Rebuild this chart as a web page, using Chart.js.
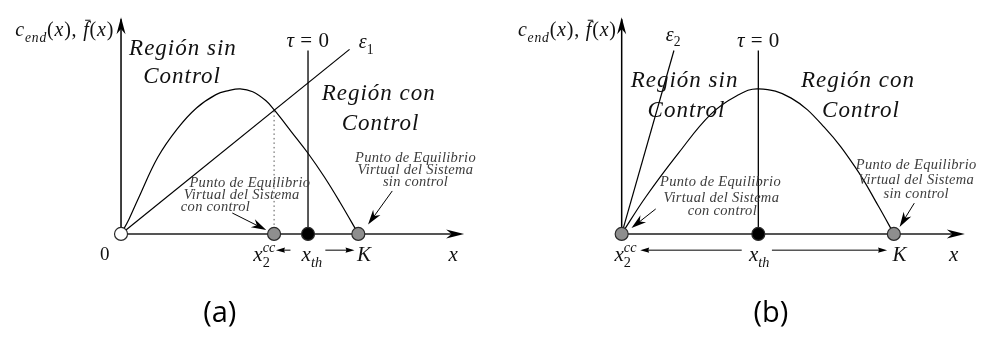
<!DOCTYPE html>
<html>
<head>
<meta charset="utf-8">
<script src="https://cdn.jsdelivr.net/npm/chart.js@4/dist/chart.umd.min.js"></script>
<style>
  html, body { margin: 0; padding: 0; background: #fff; }
  #wrap { position: relative; width: 981px; height: 338px; overflow: hidden; }
  #wrap canvas { position: absolute; top: 0; }
</style>
</head>
<body>
<div id="wrap">
  <canvas id="chartA" width="490" height="338" style="left:0px"></canvas>
  <canvas id="chartB" width="491" height="338" style="left:490px"></canvas>
</div>
<script>
// ---- Data (x in units of population, K = 100; y in units where max f̄ = 25) ----
const K = 100;

// Panel (a)
const curveA = [[0,0],[3.3,2.5],[7.3,6.1],[15.5,13.2],[23.7,18.1],[31.8,21.7],[40,24.0],
                [45.3,24.7],[50.2,25],[55.5,24.5],[61.2,22.9],[64.5,21.4],[71.8,17.6],
                [78.8,13.9],[85.7,9.8],[92.2,5.5],[100,0]];
const epsA   = [[0,0],[96.3,31.8]];
const xthA   = 78.8;
const x2ccA  = 64.5;
const tauTopA = 31.6;
const eqXA    = [0, x2ccA, xthA, K];
const eqKindA = ['open', 'gray', 'black', 'gray'];

// Panel (b)
const curveB = [[0,0],[8.9,6.4],[21,14],[32.7,20.6],[42.3,23.8],[50.2,25],[62.3,23.4],
                [74.4,18.4],[86.1,11.3],[94.3,4.8],[100,0]];
const epsB   = [[0,0],[19.2,31.6]];
const xthB   = 50.2;
const x2ccB  = 0;
const tauTopB = 31.6;
const eqXB    = [x2ccB, xthB, K];
const eqKindB = ['gray', 'black', 'gray'];

// Axis extents
const yAxisTop = 37;
const xAxisEndA = 142.9;
const xAxisEndB = 124.6;

// ---- Text ----
const SERIF = '"Liberation Serif", "DejaVu Serif", serif';
const SANS  = '"Open Sans", "Noto Sans", sans-serif';
const yLabelSegs = [{t:'c',i:1},{t:'end',i:1,sub:1},{t:'('},{t:'x',i:1},{t:'), '},
                    {t:'f',i:1,bar:1},{t:'('},{t:'x',i:1},{t:')'}];
const x2ccSegs = [{t:'x',i:1},{t:'2',sub:1},{t:'cc',i:1,sup:1,stack:1}];
const xthSegs  = [{t:'x',i:1},{t:'th',i:1,sub:1}];
const tauSegs  = [{t:'τ',i:1},{t:' = 0'}];
const annCon   = ['Punto de Equilibrio', 'Virtual del Sistema', 'con control'];
const annSin   = ['Punto de Equilibrio', 'Virtual del Sistema', 'sin control'];

const fillFor = { open: '#ffffff', gray: '#8e8e8e', black: '#000000' };

// ---- Drawing helpers ----
function richLayout(ctx, segs, size, spacing) {
  let x = 0, prevStart = 0;
  const items = [];
  for (const s of segs) {
    const fs = (s.sub || s.sup) ? size * 0.68 : size;
    const font = (s.i ? 'italic ' : '') + fs + 'px ' + SERIF;
    ctx.font = font;
    ctx.letterSpacing = spacing + 'px';
    const w = ctx.measureText(s.t).width;
    let sx = x;
    if (s.stack) { sx = prevStart; x = Math.max(x, sx + w); }
    else { prevStart = sx; x += w; }
    items.push({ s, font, sx, w });
  }
  return { items, width: x };
}
function drawRich(ctx, segs, x, y, size, align, color, spacing) {
  spacing = spacing || 0;
  ctx.save();
  const L = richLayout(ctx, segs, size, spacing);
  let x0 = x;
  if (align === 'center') x0 = x - L.width / 2;
  else if (align === 'right') x0 = x - L.width;
  ctx.fillStyle = color; ctx.strokeStyle = color;
  ctx.textBaseline = 'alphabetic'; ctx.textAlign = 'left';
  ctx.letterSpacing = spacing + 'px';
  const base = y + size * 0.33;
  for (const it of L.items) {
    ctx.font = it.font;
    let dy = 0;
    if (it.s.sub) dy = size * 0.28;
    if (it.s.sup) dy = -size * 0.42;
    ctx.fillText(it.s.t, x0 + it.sx, base + dy);
    if (it.s.bar) {
      ctx.lineWidth = 1;
      ctx.beginPath();
      ctx.moveTo(x0 + it.sx + it.w * 0.3, base - size * 0.8);
      ctx.lineTo(x0 + it.sx + it.w + 1, base - size * 0.8);
      ctx.stroke();
    }
  }
  ctx.restore();
}
function arrowHead(ctx, x1, y1, x2, y2, len, half, notch, color) {
  const a = Math.atan2(y2 - y1, x2 - x1);
  const c = Math.cos(a), s = Math.sin(a);
  const bx = x2 - c * len, by = y2 - s * len;
  ctx.save();
  ctx.fillStyle = color;
  ctx.beginPath();
  ctx.moveTo(x2, y2);
  ctx.lineTo(bx - s * half, by + c * half);
  ctx.lineTo(x2 - c * len * (1 - notch), y2 - s * len * (1 - notch));
  ctx.lineTo(bx + s * half, by - c * half);
  ctx.closePath();
  ctx.fill();
  ctx.restore();
}
function arrow(ctx, x1, y1, x2, y2, len, half, notch, color, lw) {
  const a = Math.atan2(y2 - y1, x2 - x1);
  ctx.save();
  ctx.strokeStyle = color; ctx.lineWidth = lw;
  ctx.beginPath();
  ctx.moveTo(x1, y1);
  ctx.lineTo(x2 - Math.cos(a) * len * 0.6, y2 - Math.sin(a) * len * 0.6);
  ctx.stroke();
  ctx.restore();
  arrowHead(ctx, x1, y1, x2, y2, len, half, notch, color);
}
function plainText(ctx, t, x, y, font, color, spacing) {
  ctx.save();
  ctx.font = font; ctx.fillStyle = color;
  ctx.letterSpacing = (spacing || 0) + 'px';
  ctx.textAlign = 'center'; ctx.textBaseline = 'middle';
  ctx.fillText(t, x, y);
  ctx.restore();
}

// ---- Panel builder ----
function toXY(arr) { return arr.map(p => ({ x: p[0], y: p[1] })); }

function buildPanel(canvasId, cfg) {
  const datasets = [
    { // equilibrium points on top
      type: 'scatter', data: cfg.eqX.map(v => ({ x: v, y: 0 })),
      pointRadius: 6.5, pointHoverRadius: 6.5,
      pointBackgroundColor: cfg.eqKind.map(k => fillFor[k]),
      pointBorderColor: '#2a2a2a', pointBorderWidth: 1.2, showLine: false
    },
    { type: 'line', data: toXY(cfg.curve), borderColor: '#000', borderWidth: 1.2,
      pointRadius: 0, tension: 0.4, fill: false },
    { type: 'line', data: toXY(cfg.eps), borderColor: '#000', borderWidth: 1.2,
      pointRadius: 0, fill: false },
    { type: 'line', data: [{ x: cfg.xth, y: 0 }, { x: cfg.xth, y: cfg.tauTop }],
      borderColor: '#000', borderWidth: 1.3, pointRadius: 0, fill: false },
    { type: 'line', data: [{ x: 0, y: 0 }, { x: cfg.xEnd, y: 0 }],
      borderColor: '#555', borderWidth: 2, pointRadius: 0, fill: false },
    { type: 'line', data: [{ x: 0, y: 0 }, { x: 0, y: yAxisTop }],
      borderColor: '#000', borderWidth: 1.5, pointRadius: 0, fill: false }
  ];
  if (cfg.dotted) {
    datasets.push({ type: 'line', data: [{ x: cfg.dotted[0], y: 0 }, { x: cfg.dotted[0], y: cfg.dotted[1] }],
      borderColor: '#555', borderWidth: 1, borderDash: [1.5, 3], pointRadius: 0, fill: false });
  }

  const overlay = {
    id: 'overlay',
    afterDatasetsDraw(chart) {
      const ctx = chart.ctx;
      const X = v => chart.scales.x.getPixelForValue(v);
      const Y = v => chart.scales.y.getPixelForValue(v);
      // axis arrowheads
      arrowHead(ctx, X(0), Y(0), X(0), Y(yAxisTop) - 2, 17, 4.5, 0.3, '#000');
      arrowHead(ctx, X(0), Y(0), X(cfg.xEnd) + 4, Y(0), 18, 4.5, 0.3, '#000');
      // region captions
      const regFont = 'italic 23px ' + SERIF;
      for (const r of cfg.regions) plainText(ctx, r.t, X(r.x), Y(r.y), regFont, '#111', 1);
      // axis labels
      drawRich(ctx, yLabelSegs, X(cfg.yLab[0]), Y(cfg.yLab[1]), 20, 'right', '#111', 0.8);
      drawRich(ctx, tauSegs, X(cfg.tauLab[0]), Y(cfg.tauLab[1]), 21, 'center', '#111', 0.5);
      drawRich(ctx, [{ t: 'ε', i: 1 }, { t: cfg.epsSub, sub: 1 }], X(cfg.epsLab[0]), Y(cfg.epsLab[1]), 20, 'center', '#111');
      drawRich(ctx, x2ccSegs, X(cfg.x2Lab), Y(-3.5), 21, 'center', '#111');
      drawRich(ctx, xthSegs, X(cfg.xthLab), Y(-3.5), 21, 'center', '#111');
      drawRich(ctx, [{ t: 'K', i: 1 }], X(cfg.kLab), Y(-3.5), 21, 'center', '#111');
      drawRich(ctx, [{ t: 'x', i: 1 }], X(cfg.xLab), Y(-3.5), 21, 'center', '#111');
      if (cfg.zeroLab) drawRich(ctx, [{ t: '0' }], X(cfg.zeroLab), Y(-3.5), 19, 'center', '#111');
      // range arrows under the axis
      const ry = Y(-2.8);
      for (const a of cfg.rangeArrows) arrow(ctx, X(a[0]), ry, X(a[1]), ry, 9, 2.6, 0.1, '#000', 1);
      // equilibrium annotations
      const annFont = 'italic 14.5px ' + SERIF;
      for (const g of cfg.notes) {
        g.lines.forEach((t, i) => plainText(ctx, t, X(g.x[i]), Y(g.y[i]), annFont, '#3c3c3c', 0.3));
        const p = g.arrow;
        arrow(ctx, X(p[0]), Y(p[1]), X(p[2]), Y(p[3]), 15, 4.5, 0.3, '#000', 1);
      }
      // panel tag
      plainText(ctx, cfg.tag, X(cfg.tagPos[0]), Y(cfg.tagPos[1]), '29px ' + SANS, '#000');
    }
  };

  return new Chart(document.getElementById(canvasId), {
    data: { datasets },
    options: {
      responsive: false, animation: false, devicePixelRatio: 1,
      layout: { padding: 0 },
      plugins: { legend: { display: false }, tooltip: { enabled: false } },
      events: [],
      scales: {
        x: { type: 'linear', display: false, min: cfg.xMin, max: cfg.xMax },
        y: { type: 'linear', display: false, min: -16.61, max: 38.98 }
      }
    },
    plugins: [overlay]
  });
}

buildPanel('chartA', {
  xMin: -47.755, xMax: 152.245,
  curve: curveA, eps: epsA, xth: xthA, tauTop: tauTopA, xEnd: xAxisEndA,
  eqX: eqXA, eqKind: eqKindA, dotted: [x2ccA, 21.4],
  regions: [{ t: 'Región sin', x: 26.1, y: 31.9 }, { t: 'Control', x: 25.7, y: 27.0 },
            { t: 'Región con', x: 108.6, y: 24.2 }, { t: 'Control', x: 109.4, y: 18.9 }],
  yLab: [-2.9, 35.2], tauLab: [78.8, 33.4], epsLab: [103.3, 33.1], epsSub: '1',
  x2Lab: 60.4, xthLab: 80.4, kLab: 102.4, xLab: 140, zeroLab: -6.9,
  rangeArrows: [[71.4, 65.3], [86.1, 98.4]],
  notes: [
    { lines: annCon, x: [54.3, 50.8, 39.8], y: [8.7, 6.7, 4.6], arrow: [46.9, 3.6, 61.2, 0.66] },
    { lines: annSin, x: [124.1, 124.1, 124.1], y: [13.0, 11.0, 8.9], arrow: [114.3, 7.4, 104.1, 1.6] }
  ],
  tag: '(a)', tagPos: [41.6, -13.7]
});

buildPanel('chartB', {
  xMin: -45.55, xMax: 129.18,
  curve: curveB, eps: epsB, xth: xthB, tauTop: tauTopB, xEnd: xAxisEndB,
  eqX: eqXB, eqKind: eqKindB, dotted: null,
  regions: [{ t: 'Región sin', x: 23.1, y: 26.3 }, { t: 'Control', x: 23.8, y: 21.2 },
            { t: 'Región con', x: 86.8, y: 26.3 }, { t: 'Control', x: 87.9, y: 21.2 }],
  yLab: [-1.8, 35.2], tauLab: [50.2, 33.4], epsLab: [18.9, 34.4], epsSub: '2',
  x2Lab: 1.4, xthLab: 50.5, kLab: 102.1, xLab: 122, zeroLab: null,
  rangeArrows: [[44.1, 6.8], [55.2, 97.5]],
  notes: [
    { lines: annCon, x: [36.3, 36.6, 37.0], y: [8.9, 6.1, 3.9], arrow: [12.5, 4.3, 3.6, 1.0] },
    { lines: annSin, x: [108.2, 108.2, 108.2], y: [11.8, 9.2, 6.9], arrow: [107.5, 5.3, 102.1, 1.2] }
  ],
  tag: '(b)', tagPos: [54.8, -13.7]
});
</script>
</body>
</html>
